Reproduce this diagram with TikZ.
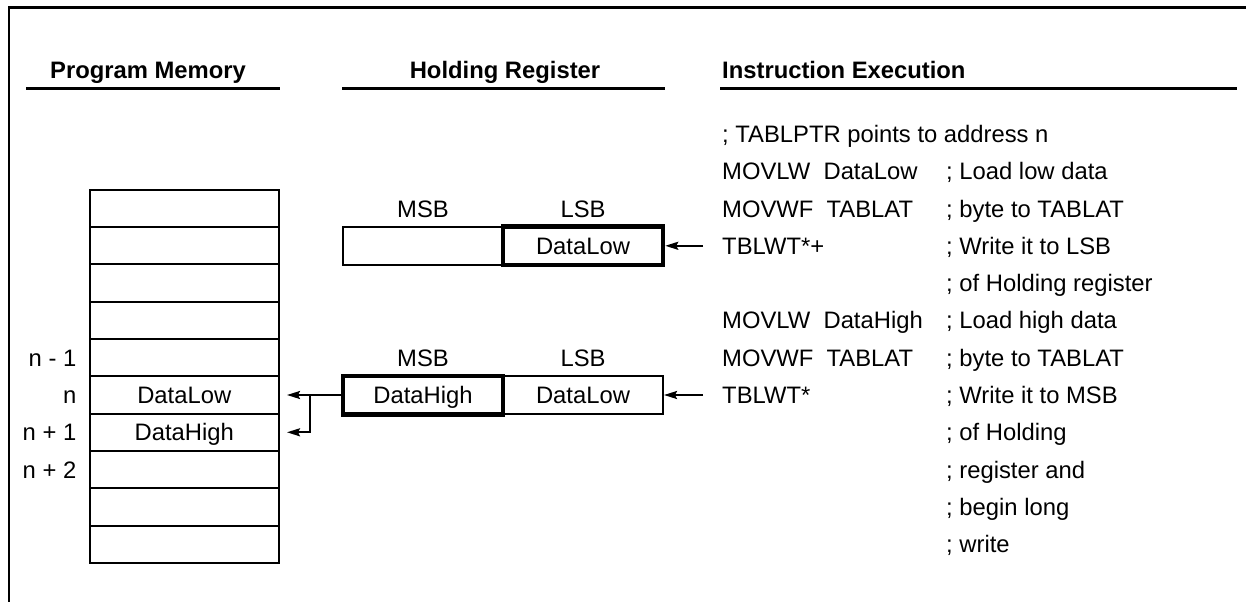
\documentclass[tikz,border=0pt]{standalone}
\usepackage{fontspec}
\setmainfont{Liberation Sans}
\usetikzlibrary{arrows.meta,positioning,calc}
\tikzset{
	cell/.style={draw,line width=2pt,minimum width=189.5pt,minimum height=37.3pt,inner sep=0pt,text height=17pt,text depth=0pt},
	regpart/.style={cell,minimum width=160pt,minimum height=38.5pt},
	hold/.style={line width=4.5pt},
	lbl/.style={inner sep=0pt,text height=17pt,text depth=0pt},
	txt/.style={lbl,anchor=west},
	head/.style={inner sep=0pt,anchor=base,font=\fontsize{23.8}{28}\selectfont\bfseries},
	rule/.style={line width=2.5pt},
	wire/.style={line width=2pt},
}
\begin{document}
\begin{tikzpicture}[>={Stealth[length=13pt,width=8pt,inset=2pt]},x=1pt,y=-1pt,font=\fontsize{23.8}{28}\selectfont]
	\def\rowh{37.3}
	\def\rowy{208.5}
	\useasboundingbox (0,0) rectangle (1246,602);
	\draw[rule] (1246,7.5) -- (9,7.5) -- (9,602);
	\foreach \i in {0,...,9} \node[cell] (m\i) at (184.25,{\rowy+\rowh*\i}) {};
	\node[cell] at (m5) {DataLow};
	\node[cell] at (m6) {DataHigh};
	\node[lbl,left=12pt of m4] (nm1) {n - 1};
	\node[lbl,left=12pt of m5] (n0) {n};
	\node[lbl,left=12pt of m6] (np1) {n + 1};
	\node[lbl,left=12pt of m7] (np2) {n + 2};
	\node[regpart] (hr1m) at (423,{\rowy+\rowh}) {};
	\node[regpart,hold] (hr1l) at (583,{\rowy+\rowh}) {DataLow};
	\node[regpart] (hr2l) at (583,{\rowy+5*\rowh}) {DataLow};
	\node[regpart,hold] (hr2m) at (423,{\rowy+5*\rowh}) {DataHigh};
	\node[lbl] (msb1) at (hr1m |- m0) {MSB};
	\node[lbl] (lsb1) at (hr1l |- m0) {LSB};
	\node[lbl] (msb2) at (hr2m |- m4) {MSB};
	\node[lbl] (lsb2) at (hr2l |- m4) {LSB};
	\node[head] (hmem) at (148,78) {Program Memory};
	\node[head] (hreg) at (505,78) {Holding Register};
	\node[head,anchor=base west] (hins) at (722,78) {Instruction Execution};
	\draw[rule] (26,88.5) -- (280,88.5);
	\draw[rule] (hr1m.west |- 0,88.5) -- (hr1l.east |- 0,88.5);
	\draw[rule] (720,88.5) -- (1237,88.5);
	\node[txt] (tptr) at (722,{\rowy-2*\rowh}) {; TABLPTR points to address n};
	\foreach \k/\op/\cm in {-1/MOVLW\ \ DataLow/; Load low data,0/MOVWF\ \ TABLAT/; byte to TABLAT,1/TBLWT*+/; Write it to LSB,2//; of Holding register,3/MOVLW\ \ DataHigh/; Load high data,4/MOVWF\ \ TABLAT/; byte to TABLAT,5/TBLWT*/; Write it to MSB,6//; of Holding,7//; register and,8//; begin long,9//; write}{
		\node[txt] (op\k) at (722,{\rowy+\rowh*(\k)}) {\op};
		\node[txt] (cm\k) at (946,{\rowy+\rowh*(\k)}) {\cm};
	}
	\draw[wire,->,shorten <=19pt] (op1.west -| tptr.west) -- (op1.west -| hr1l.east);
	\draw[wire,->,shorten <=19pt] (op5.west -| tptr.west) -- (op5.west -| hr2l.east);
	\coordinate (split) at ($(hr2m.west)!0.5!(m5.east)$);
	\draw[wire] (hr2m.west) -- (split);
	\draw[wire,->,shorten >=7pt] (split) -- (m5.east);
	\draw[wire,->,shorten >=7pt] (split) |- (m6.east);
\end{tikzpicture}
\end{document}
